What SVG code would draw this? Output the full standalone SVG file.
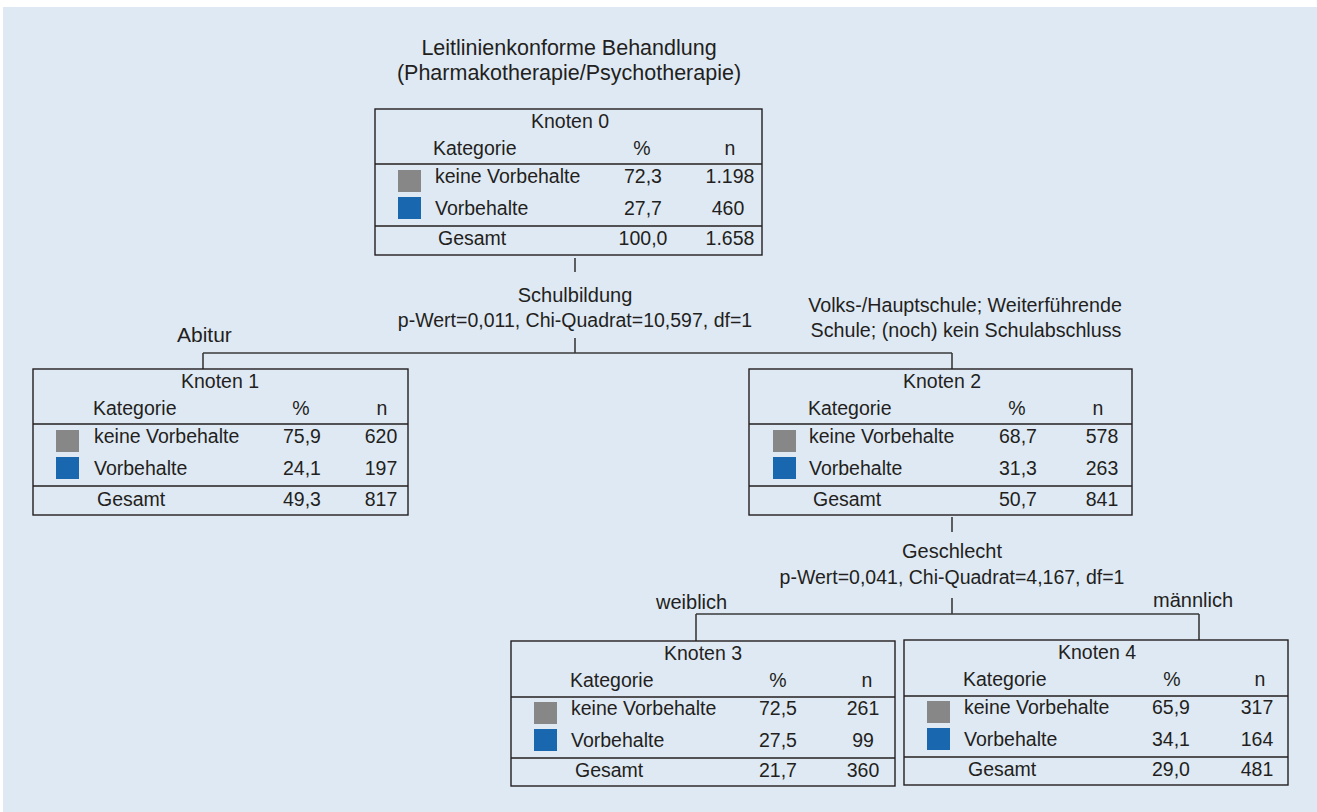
<svg xmlns="http://www.w3.org/2000/svg" width="1317" height="812" viewBox="0 0 1317 812">
<style>
text{font-family:"Liberation Sans",Arial,sans-serif;fill:#231f20}
.t{font-size:19.5px}
.l{font-size:20px}
.h{font-size:21.5px}
.m{text-anchor:middle}
.box{fill:none;stroke:#231f20;stroke-width:1.4}
.sep{stroke:#231f20;stroke-width:1.4}
.g{fill:#878787}
.b{fill:#1967ae}
.con line{stroke:#3a3a3a;stroke-width:1.6}
</style>
<rect x="3" y="7" width="1314" height="805" fill="#dfe9f4"/>
<g id="title">
<text class="h m" x="569" y="55">Leitlinienkonforme Behandlung</text>
<text class="h m" x="569" y="80">(Pharmakotherapie/Psychotherapie)</text>
</g>
<g id="connectors" class="con">
<line x1="575" y1="258" x2="575" y2="272"/>
<line x1="575" y1="338" x2="575" y2="353"/>
<line x1="203" y1="353" x2="952" y2="353"/>
<line x1="203" y1="353" x2="203" y2="369"/>
<line x1="952" y1="353" x2="952" y2="369"/>
<line x1="952" y1="517" x2="952" y2="532"/>
<line x1="952" y1="598" x2="952" y2="614"/>
<line x1="696" y1="614" x2="1199" y2="614"/>
<line x1="696" y1="614" x2="696" y2="641"/>
<line x1="1199" y1="614" x2="1199" y2="640"/>
</g>
<g id="labels">
<text class="l m" x="575" y="302">Schulbildung</text>
<text class="l m" x="575" y="327" style="font-size:19.5px">p-Wert=0,011, Chi-Quadrat=10,597, df=1</text>
<text class="l" x="177" y="342" style="font-size:21px">Abitur</text>
<text class="l m" x="965" y="312" style="font-size:19.7px">Volks-/Hauptschule; Weiterführende</text>
<text class="l m" x="966" y="337" style="font-size:19.7px">Schule; (noch) kein Schulabschluss</text>
<text class="l m" x="952" y="558">Geschlecht</text>
<text class="l m" x="952" y="584" style="font-size:19.5px">p-Wert=0,041, Chi-Quadrat=4,167, df=1</text>
<text class="l" x="656" y="609">weiblich</text>
<text class="l" x="1153" y="607">männlich</text>
</g>
<g id="node0">
<rect class="box" x="375" y="109" width="387" height="146"/>
<line class="sep" x1="375" y1="164" x2="762" y2="164"/>
<line class="sep" x1="375" y1="226" x2="762" y2="226"/>
<text class="t m" x="570" y="128">Knoten 0</text>
<text class="t" x="433" y="155">Kategorie</text>
<text class="t m" x="642" y="155">%</text>
<text class="t m" x="730" y="155">n</text>
<rect class="g" x="398" y="170" width="23" height="22"/>
<text class="t" x="435" y="183">keine Vorbehalte</text>
<text class="t m" x="643" y="183">72,3</text>
<text class="t m" x="730" y="183">1.198</text>
<rect class="b" x="398" y="197" width="23" height="22"/>
<text class="t" x="435" y="215">Vorbehalte</text>
<text class="t m" x="643" y="215">27,7</text>
<text class="t m" x="728" y="215">460</text>
<text class="t" x="438" y="245">Gesamt</text>
<text class="t m" x="643" y="245">100,0</text>
<text class="t m" x="730" y="245">1.658</text>
</g>
<g id="node1">
<rect class="box" x="33" y="369" width="375" height="146"/>
<line class="sep" x1="33" y1="424" x2="408" y2="424"/>
<line class="sep" x1="33" y1="486" x2="408" y2="486"/>
<text class="t m" x="220" y="388">Knoten 1</text>
<text class="t" x="93" y="415">Kategorie</text>
<text class="t m" x="301" y="415">%</text>
<text class="t m" x="382" y="415">n</text>
<rect class="g" x="56" y="430" width="23" height="22"/>
<text class="t" x="94" y="443">keine Vorbehalte</text>
<text class="t m" x="302" y="443">75,9</text>
<text class="t m" x="381" y="443">620</text>
<rect class="b" x="56" y="457" width="23" height="22"/>
<text class="t" x="94" y="475">Vorbehalte</text>
<text class="t m" x="302" y="475">24,1</text>
<text class="t m" x="381" y="475">197</text>
<text class="t" x="97" y="506">Gesamt</text>
<text class="t m" x="302" y="506">49,3</text>
<text class="t m" x="381" y="506">817</text>
</g>
<g id="node2">
<rect class="box" x="749" y="369" width="383" height="146"/>
<line class="sep" x1="749" y1="424" x2="1132" y2="424"/>
<line class="sep" x1="749" y1="486" x2="1132" y2="486"/>
<text class="t m" x="942" y="388">Knoten 2</text>
<text class="t" x="808" y="415">Kategorie</text>
<text class="t m" x="1017" y="415">%</text>
<text class="t m" x="1098" y="415">n</text>
<rect class="g" x="773" y="430" width="23" height="22"/>
<text class="t" x="809" y="443">keine Vorbehalte</text>
<text class="t m" x="1018" y="443">68,7</text>
<text class="t m" x="1102" y="443">578</text>
<rect class="b" x="773" y="457" width="23" height="22"/>
<text class="t" x="809" y="475">Vorbehalte</text>
<text class="t m" x="1018" y="475">31,3</text>
<text class="t m" x="1102" y="475">263</text>
<text class="t" x="813" y="506">Gesamt</text>
<text class="t m" x="1018" y="506">50,7</text>
<text class="t m" x="1102" y="506">841</text>
</g>
<g id="node3">
<rect class="box" x="511" y="641" width="384" height="145"/>
<line class="sep" x1="511" y1="697" x2="895" y2="697"/>
<line class="sep" x1="511" y1="758" x2="895" y2="758"/>
<text class="t m" x="703" y="660">Knoten 3</text>
<text class="t" x="570" y="687">Kategorie</text>
<text class="t m" x="778" y="687">%</text>
<text class="t m" x="867" y="687">n</text>
<rect class="g" x="534" y="702" width="23" height="22"/>
<text class="t" x="571" y="715">keine Vorbehalte</text>
<text class="t m" x="778" y="715">72,5</text>
<text class="t m" x="863" y="715">261</text>
<rect class="b" x="534" y="729" width="23" height="22"/>
<text class="t" x="571" y="747">Vorbehalte</text>
<text class="t m" x="778" y="747">27,5</text>
<text class="t m" x="863" y="747">99</text>
<text class="t" x="575" y="777">Gesamt</text>
<text class="t m" x="778" y="777">21,7</text>
<text class="t m" x="863" y="777">360</text>
</g>
<g id="node4">
<rect class="box" x="904" y="640" width="384" height="145"/>
<line class="sep" x1="904" y1="696" x2="1288" y2="696"/>
<line class="sep" x1="904" y1="757" x2="1288" y2="757"/>
<text class="t m" x="1097" y="659">Knoten 4</text>
<text class="t" x="963" y="686">Kategorie</text>
<text class="t m" x="1172" y="686">%</text>
<text class="t m" x="1260" y="686">n</text>
<rect class="g" x="927" y="701" width="23" height="22"/>
<text class="t" x="964" y="714">keine Vorbehalte</text>
<text class="t m" x="1171" y="714">65,9</text>
<text class="t m" x="1257" y="714">317</text>
<rect class="b" x="927" y="728" width="23" height="22"/>
<text class="t" x="964" y="746">Vorbehalte</text>
<text class="t m" x="1171" y="746">34,1</text>
<text class="t m" x="1257" y="746">164</text>
<text class="t" x="968" y="776">Gesamt</text>
<text class="t m" x="1171" y="776">29,0</text>
<text class="t m" x="1257" y="776">481</text>
</g>
</svg>
